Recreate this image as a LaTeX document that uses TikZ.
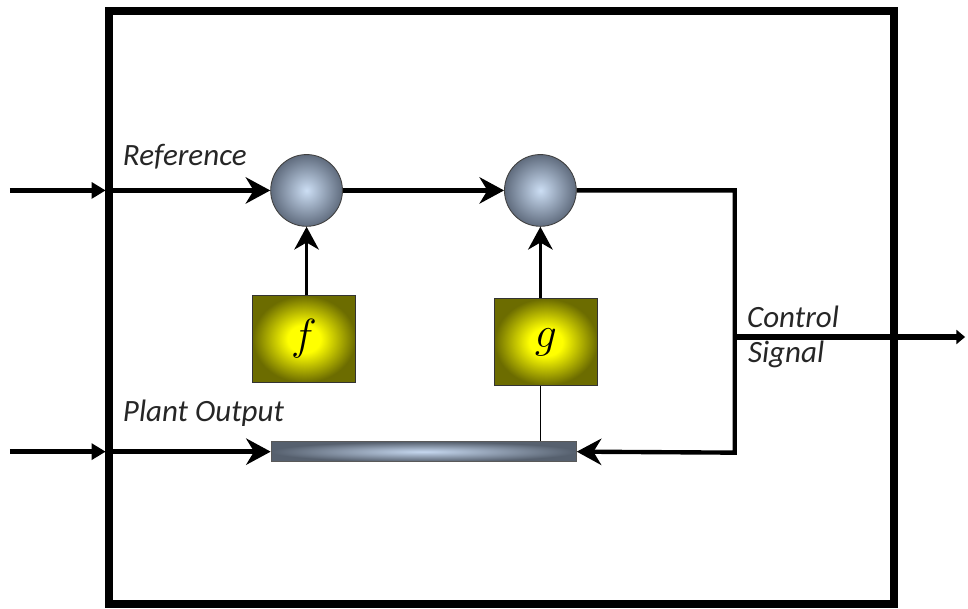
\documentclass[tikz,border=0pt]{standalone}
\usepackage{fontspec}
\setmainfont{Carlito}
\usetikzlibrary{
  arrows.meta,
  positioning,
  calc
}
\definecolor{ballin}{RGB}{204,222,244}
\definecolor{ballout}{RGB}{96,108,126}
\definecolor{boxedge}{RGB}{108,108,0}
\definecolor{barin}{RGB}{198,216,240}
\definecolor{barout}{RGB}{86,96,110}
\pgfdeclareradialshading{boxglow}{\pgfpoint{0bp}{0bp}}{%
  color(0bp)=(yellow); color(8bp)=(yellow); color(25bp)=(boxedge); color(50bp)=(boxedge)}

\begin{document}
\begin{tikzpicture}[
  x=0.02cm, y=-0.02cm,
  font=\fontsize{17.7}{20}\selectfont\itshape,
  sumnode/.style={
    circle, minimum size=1.44cm, inner sep=0pt,
    draw=black!75, line width=0.5pt,
    shading=radial, inner color=ballin, outer color=ballout
  },
  fnbox/.style={
    rectangle, minimum width=2.06cm, minimum height=1.74cm,
    draw=black!80, line width=0.6pt, shading=boxglow,
    font=\fontsize{30}{32}\selectfont
  },
  membar/.style={
    rectangle, minimum width=6.12cm, minimum height=0.4cm, inner sep=0pt,
    draw=black!65, line width=0.6pt,
    shading=radial, inner color=barin, outer color=barout
  },
  frame/.style={line width=4.6pt, line join=miter},
  wire/.style={line width=2.5pt, line join=miter},
  arrow/.style={wire, -{Stealth[length=14pt, width=15pt, inset=4.5pt]}},
  uparrow/.style={line width=1.8pt, -{Stealth[length=13pt, width=14pt, inset=4pt]}},
  inarrow/.style={line width=3pt, -{Triangle[length=8pt, width=9pt]}},
  outarrow/.style={line width=3.3pt, -{Triangle[length=5pt, width=8pt]}},
  thinwire/.style={line width=0.6pt},
  lbl/.style={inner sep=0pt, text=black!85},
]

% outer controller block
\draw[frame] (109.5,11) rectangle (897,606);

% summing points, function blocks and the memory bar
\node[sumnode] (sum1) at (307.5,191) {};
\node[sumnode] (sum2) at (542,191) {};
\node[fnbox] (fbox) at (305,340) {$f$};
\node[fnbox] (gbox) at (547.5,343) {$g$};
\node[membar] (mem) at (425,453) {};

% ports and corners
\coordinate (refin)     at (10,191);
\coordinate (refport)   at (106,191);
\coordinate (refstart)  at (110,191);
\coordinate (plantin)   at (10,453);
\coordinate (plantport) at (106,453);
\coordinate (plantstart) at (110,453);
\coordinate (turn)      at (737,191);
\coordinate (back)      at (737,454);
\coordinate (ctrlsplit) at (737,338);
\coordinate (ctrlout)   at (968,338);

% labels
\node[lbl, anchor=base west] (reflbl)   at (123,166) {Reference};
\node[lbl, anchor=base west] (plantlbl) at (123,423) {Plant Output};
\node[lbl, anchor=base west] (ctrllbl)  at (749,328) {Control};
\node[lbl, anchor=base west] (siglbl)   at (750,364) {Signal};

% inputs into the block
\draw[inarrow] (refin) -- (refport);
\draw[inarrow] (plantin) -- (plantport);

% forward path
\draw[arrow] (refstart) -- (sum1.west);
\draw[arrow] (sum1.east) -- (sum2.west);
\draw[arrow] (plantstart) -- (mem.west);
\draw[uparrow] (sum1.south |- fbox.north) -- (sum1.south);
\draw[uparrow] (sum2.south |- gbox.north) -- (sum2.south);
\draw[thinwire] (sum2.south |- gbox.south) -- (sum2.south |- mem.north);

% feedback into the bar and control output
\draw[arrow] (sum2.east) -- (turn) -- (back) -- (mem.east);
\draw[outarrow] (ctrlsplit) -- (ctrlout);

\useasboundingbox (0,0) rectangle (968,610);
\end{tikzpicture}
\end{document}
